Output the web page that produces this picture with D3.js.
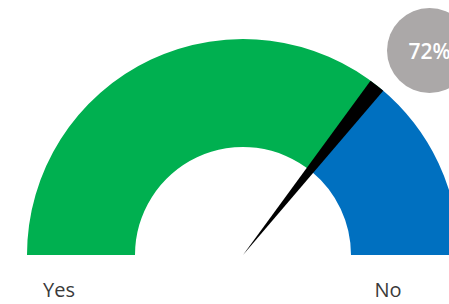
<!DOCTYPE html>
<html>
<head>
<meta charset="utf-8">
<script src="https://cdn.jsdelivr.net/npm/d3@7"></script>
<style>
  html, body { margin: 0; padding: 0; background: #ffffff; overflow: hidden; }
  svg { display: block; }
</style>
</head>
<body>
<svg id="chart" width="449" height="304"></svg>
<script>
// ---- data ----
const categories = ["Yes", "No"];
const values = [72, 28];
const colors = ["#00B050", "#0070C0"];
const pointerValue = 72;
const pointerSpan = [-1.9, 0.5]; // needle extent around value, in percentage points
const labelText = pointerValue + "%";

// ---- layout ----
const W = 449, H = 304;
const cx = 243, cy = 255;
const rOuter = 216, rInner = 108;

const svg = d3.select("#chart");
const g = svg.append("g").attr("transform", `translate(${cx},${cy})`);

const total = d3.sum(values);
const angle = d3.scaleLinear().domain([0, total]).range([-Math.PI / 2, Math.PI / 2]);

// cumulative segments
let acc = 0;
const segs = values.map((v, i) => {
  const s = { cat: categories[i], start: acc, end: acc + v, color: colors[i] };
  acc += v;
  return s;
});

const arc = d3.arc().innerRadius(rInner).outerRadius(rOuter);
g.selectAll("path.seg")
  .data(segs)
  .join("path")
  .attr("class", "seg")
  .attr("d", d => arc({ startAngle: angle(d.start), endAngle: angle(d.end) }))
  .attr("fill", d => d.color);

// needle wedge
const needleArc = d3.arc().innerRadius(0).outerRadius(rOuter);
g.append("path")
  .attr("d", needleArc({
    startAngle: angle(pointerValue + pointerSpan[0]),
    endAngle: angle(pointerValue + pointerSpan[1])
  }))
  .attr("fill", "#000000");

// category labels
const labelPos = [
  { text: categories[0], x: 59 },
  { text: categories[1], x: 388 }
];
svg.selectAll("text.cat")
  .data(labelPos)
  .join("text")
  .attr("class", "cat")
  .attr("x", d => d.x)
  .attr("y", 297)
  .attr("text-anchor", "middle")
  .attr("font-family", "'Open Sans', sans-serif")
  .attr("font-size", 20)
  .attr("fill", "#3a3a3a")
  .text(d => d.text);

// value bubble
const bubble = svg.append("g").attr("transform", "translate(429.5,50.5)");
bubble.append("circle").attr("r", 42.5).attr("fill", "#ABA8A8");
bubble.append("text")
  .attr("x", 0)
  .attr("y", 8)
  .attr("text-anchor", "middle")
  .attr("font-family", "'Open Sans', sans-serif")
  .attr("font-weight", 600)
  .attr("font-size", 21)
  .attr("fill", "#ffffff")
  .text(labelText);
</script>
</body>
</html>
